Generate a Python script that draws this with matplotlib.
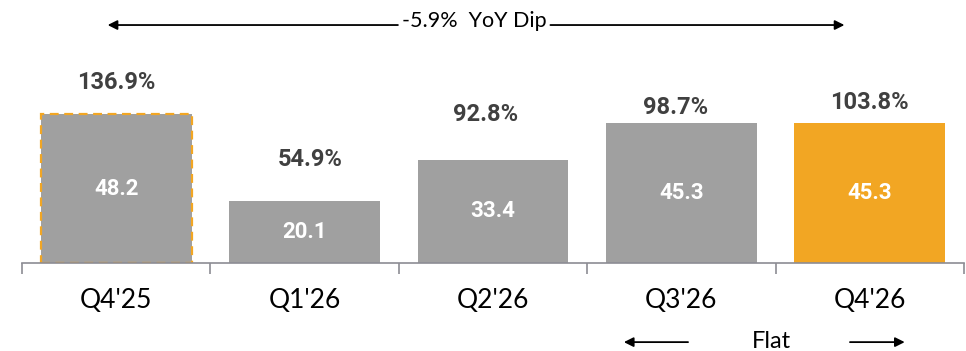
import numpy as np
import matplotlib.pyplot as plt

quarters = ["Q4'25", "Q1'26", "Q2'26", "Q3'26", "Q4'26"]
values = [48.2, 20.1, 33.4, 45.3, 45.3]
pct_labels = ["136.9%", "54.9%", "92.8%", "98.7%", "103.8%"]

GREY = '#A0A0A0'
ORANGE = '#F2A623'
DARK = '#404040'

plt.rcParams['font.family'] = ['Lato', 'DejaVu Sans']
BOLD = ['Roboto', 'DejaVu Sans']

fig = plt.figure(figsize=(9.66, 3.51), dpi=100)
ax = fig.add_axes([22/966, 88/351, 942/966, 263/351])

x = np.arange(len(quarters))
colors = [GREY, GREY, GREY, GREY, ORANGE]
bars = ax.bar(x, values, width=0.8, color=colors, zorder=2)

# dashed orange outline on the first bar
bars[0].set_edgecolor(ORANGE)
bars[0].set_linestyle((0, (4, 2.5)))
bars[0].set_linewidth(1.6)

# value labels inside bars, percentage labels above
pct_offsets = [10.3, 13.3, 14.5, 5.0, 6.6]
pct_shift = [0.0, 0.03, -0.04, -0.03, 0.0]
for xi, v, p, off, dx in zip(x, values, pct_labels, pct_offsets, pct_shift):
    ax.text(xi, v / 2, f'{v:.1f}', ha='center', va='center', family=BOLD,
            color='white', fontsize=16, fontweight='bold')
    ax.text(xi + dx, v + off, p, ha='center', va='center', family=BOLD,
            color=DARK, fontsize=17, fontweight='bold')

ax.set_xlim(-0.5, 4.5)
ax.set_ylim(0, 85.1)

for s in ['top', 'right', 'left']:
    ax.spines[s].set_visible(False)
ax.spines['bottom'].set_color('#8C8C94')
ax.spines['bottom'].set_linewidth(1.2)
ax.set_yticks([])

ax.set_xticks(np.arange(-0.5, 5, 1))
ax.set_xticklabels([])
ax.tick_params(axis='x', length=8, color='#8C8C94', width=1.2)
ax.set_xticks(x, minor=True)
ax.set_xticklabels(quarters, minor=True, fontsize=19, color='black')
ax.tick_params(axis='x', which='minor', length=0, pad=18)

# YoY arrow across the top
arrow = dict(arrowstyle='-|>', color='black', lw=1.3, mutation_scale=14)
ax.annotate('', xy=(-0.06, 77), xytext=(1.51, 77), arrowprops=arrow,
            annotation_clip=False)
ax.annotate('', xy=(3.88, 77), xytext=(2.29, 77), arrowprops=arrow,
            annotation_clip=False)
ax.text(1.90, 78.3, '-5.9%  YoY Dip', ha='center', va='center',
        fontsize=15.5, color='black', clip_on=False)

# flat arrows under the last two quarters
ax.annotate('', xy=(2.68, -25.6), xytext=(3.05, -25.6), arrowprops=arrow,
            annotation_clip=False)
ax.annotate('', xy=(4.20, -25.6), xytext=(3.88, -25.6), arrowprops=arrow,
            annotation_clip=False)
ax.text(3.48, -25.3, 'Flat', ha='center', va='center',
        fontsize=17, color='black', clip_on=False)

fig.savefig('out.png', dpi=100)
